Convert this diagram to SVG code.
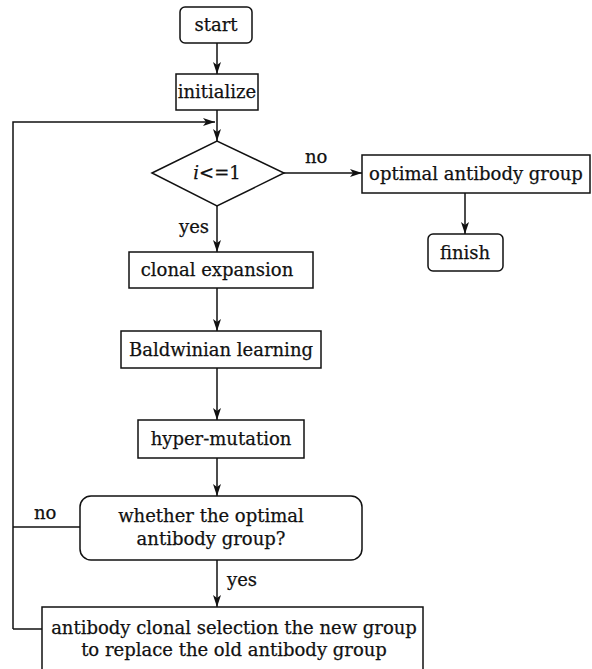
<svg xmlns="http://www.w3.org/2000/svg" width="592" height="669" viewBox="0 0 592 669">
<style>
.box{fill:#fff;stroke:#111;stroke-width:1.5}
.ln{fill:none;stroke:#111;stroke-width:1.5}
text{font-family:"DejaVu Serif","Liberation Serif",serif;font-size:18px;fill:#111;stroke:#111;stroke-width:0.25;text-anchor:middle}
.lbl{text-anchor:start}
</style>
<defs>
<marker id="ah" viewBox="0 0 12 8" refX="12" refY="4" markerWidth="13" markerHeight="8" markerUnits="userSpaceOnUse" orient="auto">
<path d="M0,0 L12,4 L0,8 L3,4 Z" fill="#111"/>
</marker>
</defs>
<rect width="592" height="669" fill="#fff"/>
<g id="connectors">
<line class="ln" x1="217" y1="43" x2="217" y2="74" marker-end="url(#ah)"/>
<line class="ln" x1="217" y1="110" x2="217" y2="141" marker-end="url(#ah)"/>
<polyline class="ln" points="13,629 13,122 215,122" marker-end="url(#ah)"/>
<line class="ln" x1="13" y1="629" x2="42" y2="629"/>
<line class="ln" x1="13" y1="527" x2="80" y2="527"/>
<line class="ln" x1="284" y1="173" x2="362" y2="173" marker-end="url(#ah)"/>
<line class="ln" x1="465" y1="193" x2="465" y2="234" marker-end="url(#ah)"/>
<line class="ln" x1="217" y1="206" x2="217" y2="252" marker-end="url(#ah)"/>
<line class="ln" x1="217" y1="288" x2="217" y2="331" marker-end="url(#ah)"/>
<line class="ln" x1="217" y1="368" x2="217" y2="420" marker-end="url(#ah)"/>
<line class="ln" x1="217" y1="458" x2="217" y2="496" marker-end="url(#ah)"/>
<line class="ln" x1="217" y1="560" x2="217" y2="607" marker-end="url(#ah)"/>
<text class="lbl" x="305" y="163">no</text>
<text class="lbl" x="179" y="233">yes</text>
<text class="lbl" x="34" y="519">no</text>
<text class="lbl" x="227" y="586">yes</text>
</g>
<g id="start">
<rect class="box" x="180" y="7" width="72" height="36" rx="5"/>
<text x="216" y="31">start</text>
</g>
<g id="initialize">
<rect class="box" x="176" y="74" width="82" height="36"/>
<text x="217" y="98">initialize</text>
</g>
<g id="decision">
<polygon class="box" points="152,173 217,141 284,173 217,206"/>
<text x="217" y="179"><tspan font-style="italic">i</tspan>&lt;=1</text>
</g>
<g id="optimal">
<rect class="box" x="362" y="155" width="228" height="38"/>
<text x="476" y="180">optimal antibody group</text>
</g>
<g id="finish">
<rect class="box" x="428" y="234" width="75" height="37" rx="5"/>
<text x="465" y="259">finish</text>
</g>
<g id="clonal">
<rect class="box" x="129" y="252" width="184" height="36"/>
<text x="217" y="276">clonal expansion</text>
</g>
<g id="baldwinian">
<rect class="box" x="121" y="331" width="200" height="37"/>
<text x="221" y="356">Baldwinian learning</text>
</g>
<g id="hyper">
<rect class="box" x="138" y="420" width="166" height="38"/>
<text x="221" y="445">hyper-mutation</text>
</g>
<g id="whether">
<rect class="box" x="80" y="496" width="282" height="64" rx="11"/>
<text x="211" y="522">whether the optimal</text>
<text x="211" y="545">antibody group?</text>
</g>
<g id="replace">
<rect class="box" x="42" y="607" width="381" height="66"/>
<text x="234" y="634">antibody clonal selection the new group</text>
<text x="234" y="656">to replace the old antibody group</text>
</g>
</svg>
